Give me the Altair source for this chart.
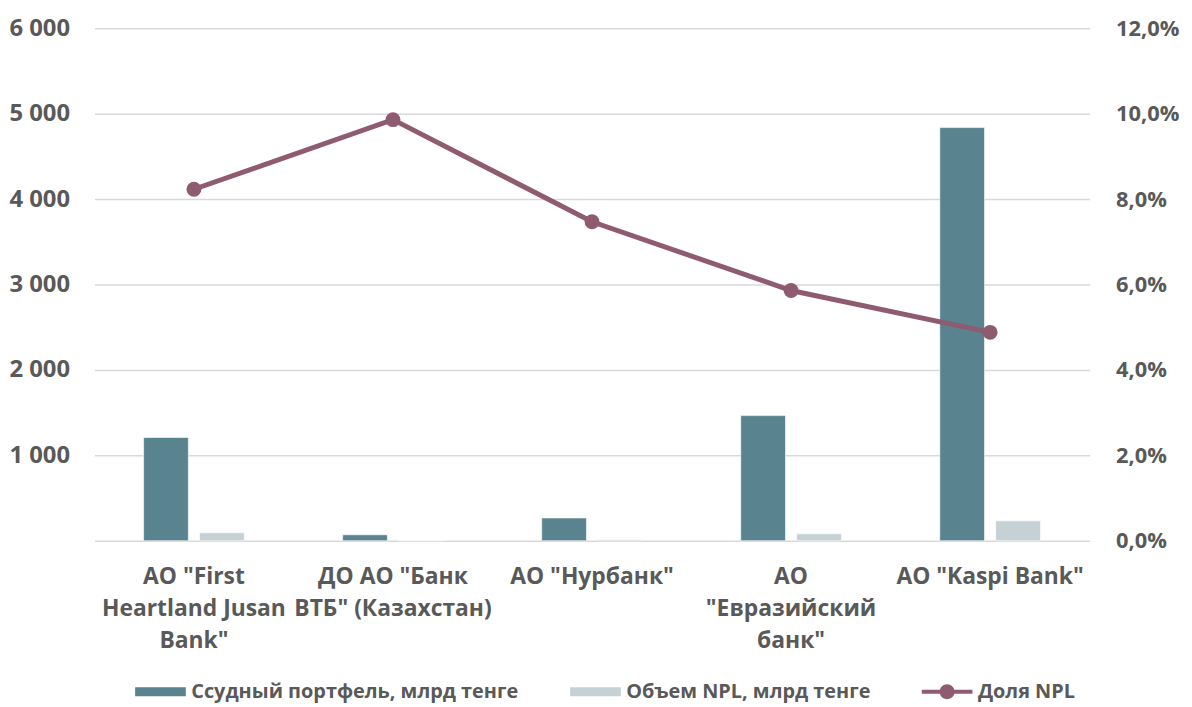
import altair as alt
import pandas as pd

banks = ['АО "First|Heartland Jusan|Bank"', 'ДО АО "Банк|ВТБ" (Казахстан)', 'АО "Нурбанк"',
         'АО|"Евразийский|банк"', 'АО "Kaspi Bank"']
loans = [1209, 70, 267, 1465, 4837]
npl = [93, 3, 12, 81, 233]
share = [8.23, 9.86, 7.47, 5.86, 4.88]

S_LOAN = 'Ссудный портфель, млрд тенге'
S_NPL = 'Объем NPL, млрд тенге'
S_SHARE = 'Доля NPL'
series = [S_LOAN, S_NPL, S_SHARE]
colors = ['#58838F', '#C5D1D5', '#8E5B70']

FONT = 'Open Sans'
GRAY = '#595959'

bars_df = pd.DataFrame(
    [{'bank': b, 'series': S_LOAN, 'value': v} for b, v in zip(banks, loans)] +
    [{'bank': b, 'series': S_NPL, 'value': v} for b, v in zip(banks, npl)]
)
line_df = pd.DataFrame({'bank': banks, 'share': share, 'series': S_SHARE})
# legend-only rows, placed off-scale and clipped
leg_df = pd.DataFrame({'bank': [banks[0]] * 3, 'share': [-50.0] * 3, 'series': series})

xenc = alt.X('bank:N', sort=banks, title=None,
             scale=alt.Scale(paddingInner=0, paddingOuter=0),
             axis=alt.Axis(labelExpr="split(datum.label, '|')", labelAngle=0,
                           labelFont=FONT, labelFontSize=23, labelFontWeight='bold',
                           labelColor=GRAY, labelLineHeight=32, labelPadding=25,
                           domain=False, ticks=False, grid=False, labelLimit=0))

color_scale = alt.Scale(domain=series, range=colors)

bars = alt.Chart(bars_df).mark_bar(stroke='#ffffff', strokeWidth=0.6).encode(
    x=xenc,
    xOffset=alt.XOffset('series:N', sort=[S_LOAN, S_NPL],
                        scale=alt.Scale(paddingInner=0.2, paddingOuter=0.88)),
    y=alt.Y('value:Q', title=None, scale=alt.Scale(domain=[0, 6000], nice=False),
            axis=alt.Axis(orient='left', values=[0, 1000, 2000, 3000, 4000, 5000, 6000],
                          labelExpr="datum.value == 0 ? '' : floor(datum.value / 1000) + ' 000'",
                          labelFont=FONT, labelFontSize=24, labelFontWeight='bold',
                          labelColor=GRAY, labelPadding=25, domain=False, ticks=False,
                          grid=True, gridColor='#D9D9D9', gridWidth=1.5)),
    fill=alt.Fill('series:N', scale=alt.Scale(domain=[S_LOAN, S_NPL], range=colors[:2]),
                  legend=None),
)

yright = alt.Y('share:Q', title=None, scale=alt.Scale(domain=[0, 12], nice=False),
               axis=alt.Axis(orient='right', values=[0, 2, 4, 6, 8, 10, 12],
                             labelExpr="replace(format(datum.value, '.1f'), '.', ',') + '%'",
                             labelFont=FONT, labelFontSize=22, labelFontWeight='bold',
                             labelColor=GRAY, labelPadding=26, domain=False, ticks=False,
                             grid=False))

line = alt.Chart(line_df).mark_line(strokeWidth=5, color='#8E5B70').encode(
    x=alt.X('bank:N', sort=banks), y=yright)
pts = alt.Chart(line_df).mark_circle(size=225, opacity=1, color='#8E5B70').encode(
    x=alt.X('bank:N', sort=banks), y=alt.Y('share:Q'))

rect_path = 'M-3.4,-0.6H3.4V0.6H-3.4Z'
line_path = 'M-3.4,-0.27H3.4V0.27H-3.4Z M-1,0A1,1 0 1,1 1,0A1,1 0 1,1 -1,0Z'

leg = alt.Chart(leg_df).mark_point(filled=True, clip=True, opacity=1, size=225).encode(
    x=alt.X('bank:N', sort=banks),
    y=alt.Y('share:Q'),
    color=alt.Color('series:N', scale=color_scale,
                    legend=alt.Legend(title=None, orient='none', legendX=56.5, legendY=658,
                                      direction='horizontal', symbolSize=225,
                                      symbolStrokeWidth=0, symbolOpacity=1,
                                      labelFont=FONT, labelFontSize=20, labelFontWeight='bold',
                                      labelColor=GRAY, labelLimit=0, labelOffset=21,
                                      columnPadding=51)),
    shape=alt.Shape('series:N', scale=alt.Scale(domain=series,
                                                range=[rect_path, rect_path, line_path])),
)

right = alt.layer(line, pts, leg)

chart = alt.layer(bars, right).resolve_scale(y='independent').properties(
    width=1002, height=516,
    autosize=alt.AutoSizeParams(type='none'),
    padding={'left': 87, 'top': 18, 'right': 95, 'bottom': 168},
).configure_view(stroke=None)

chart.save('out.html', embed_options={'renderer': 'svg', 'actions': False})
